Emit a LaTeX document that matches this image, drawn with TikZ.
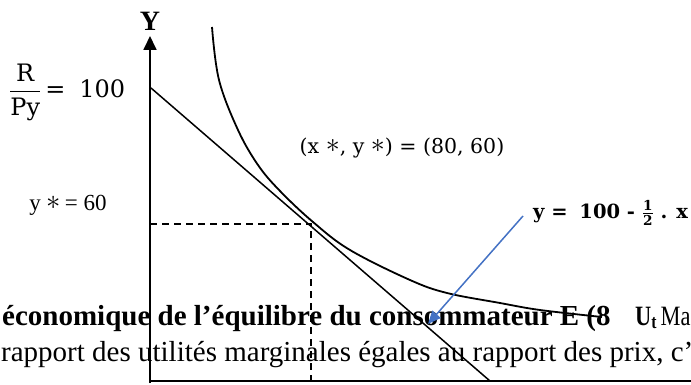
\documentclass[tikz,border=0pt]{standalone}
\usepackage{amsmath}
\usepackage{graphicx}
\usepackage{fontspec}
\setmainfont{Liberation Serif}
\newfontfamily\camb{DejaVu Serif}
\usetikzlibrary{arrows.meta}
\definecolor{arrowblue}{RGB}{68,114,196}
\newcommand{\bigast}[1][1.35]{\raisebox{0.05em}{\scalebox{#1}{$\ast$}}}
\begin{document}
\begin{tikzpicture}[x=1pt,y=-1pt,
  axis/.style={line width=1.8pt},
  icurve/.style={line width=1.8pt},
  budget/.style={line width=1.5pt},
  guide/.style={line width=1.4pt, dash pattern=on 7pt off 5pt},
  pointer/.style={draw=arrowblue, line width=1.5pt, -{Triangle[length=13pt,width=11pt]}, fill=arrowblue},
  bgtext/.style={anchor=base west, inner sep=0pt, font=\fontsize{29}{29}\selectfont},
  lbl/.style={inner sep=0pt}]
\useasboundingbox (0,0) rectangle (691,385);
\clip (0,0) rectangle (691,385);
% background page text
\begin{scope}
  \clip (0,280) rectangle (613,340);
  \node[bgtext, font=\fontsize{29}{29}\selectfont\bfseries] (l1) at (2,325) {économique de l’équilibre du consommateur E (8};
\end{scope}
\node[bgtext, font=\fontsize{28}{28}\selectfont] (ut) at (635,325) {\scalebox{0.8}[1]{\textbf{U\textsubscript{t}}\,Ma}};
\node[bgtext] (l2) at (1,361) {rapport des utilités marginales égales au rapport des prix, c’};
% axes
\coordinate (O) at (150,381);
\coordinate (Ytop) at (150,36);
\coordinate (Xend) at (691,381);
\draw[axis, -{Triangle[length=14pt,width=13pt]}] (150,383) -- (Ytop);
\draw[axis] (O) -- (Xend);
% budget line
\coordinate (B0) at (151,88);
\coordinate (B1) at (490,381);
\draw[budget] (B0) -- (B1);
% guides
\coordinate (E) at (311,224);
\coordinate (Ey) at (150,224);
\coordinate (Ex) at (311,381);
\draw[guide] (Ey) -- (E) -- (Ex);
% indifference curve
\draw[icurve] plot[smooth, tension=0.6] coordinates {(212,27) (219,80) (238,130) (258,165) (280,191) (313,222) (350,250) (410,280) (447,293) (500,303) (540,310) (602,317)};
% pointer
\coordinate (A0) at (523,216);
\coordinate (A1) at (428,324);
\draw[pointer] (A0) -- (A1);
% labels
\node[lbl, font=\fontsize{28}{28}\selectfont\bfseries] (Ylab) at (150,21) {Y};
\node[lbl, anchor=west, font=\fontsize{24}{24}\selectfont\camb] (rpy) at (9,92) {$\dfrac{\text{R}}{\text{Py}}$\hspace{4pt}=\hspace{14pt}100};
\node[lbl, font=\fontsize{23}{23}\selectfont] (ystar) at (68,205) {y \bigast[1.15]\,= 60};
\node[lbl, font=\fontsize{20.5}{20.5}\selectfont\camb] (eq) at (402,148) {(x \bigast, y \bigast) = (80, 60)};
\node[lbl, anchor=west, font=\fontsize{19.5}{19.5}\selectfont\camb\bfseries] (budgeteq) at (533,213) {y = \hspace{5pt}100 - $\frac{\text{\bfseries 1}}{\text{\bfseries 2}}$ . x};
\end{tikzpicture}
\end{document}
